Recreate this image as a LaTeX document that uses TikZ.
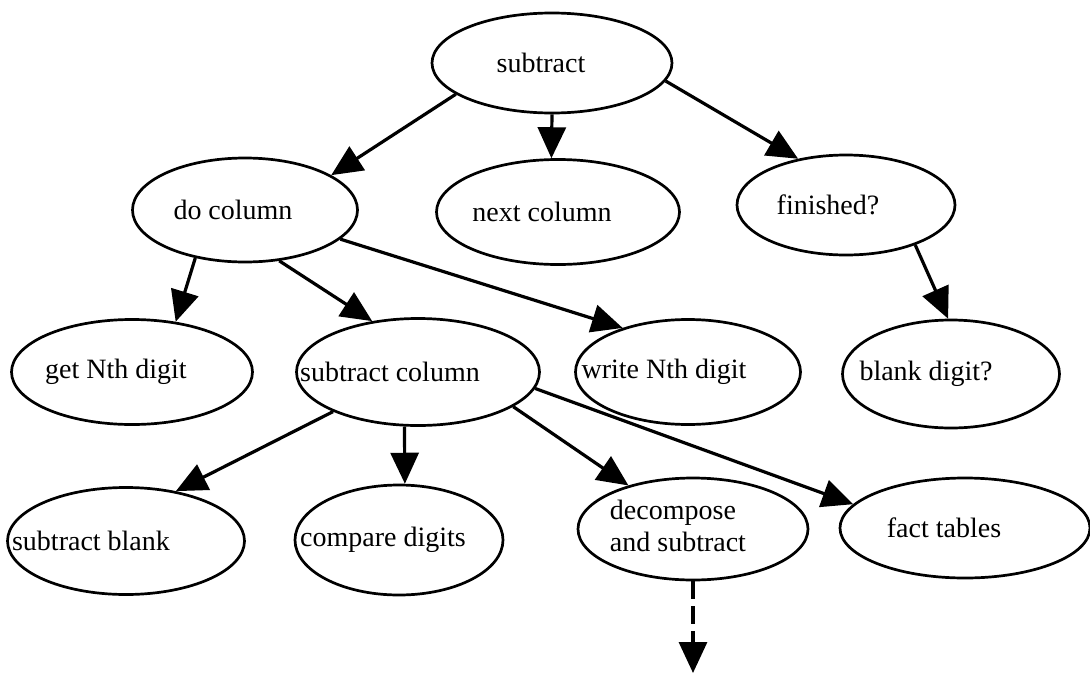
\documentclass[tikz,border=0pt]{standalone}
\usepackage{fontspec}
\setmainfont{Liberation Serif}
\usetikzlibrary{shapes.geometric,arrows.meta}
% text set a little left of the ellipse centre: #1 = twice the shift
\newcommand{\lefted}[2]{\makebox[0pt]{#2\kern#1}}
\begin{document}
\begin{tikzpicture}[x=1pt,y=-1pt,
  oval/.style={ellipse,draw,line width=2.7pt,inner sep=0pt,font=\fontsize{28}{32}\selectfont},
  size/.style 2 args={minimum width=#1pt,minimum height=#2pt},
  link/.style={line width=3.2pt,-{Triangle[length=31pt,width=28pt]}},
  dashedlink/.style={link,dash pattern=on 18pt off 7pt}]
\useasboundingbox (0,0) rectangle (1090,675);

% tasks
\node[oval,size={240}{100}] (sub)  at (552,63)  {\lefted{22pt}{subtract}};
\node[oval,size={225}{104}] (do)   at (245,210) {\lefted{24pt}{do column}};
\node[oval,size={243}{105}] (next) at (558,212) {\lefted{32pt}{next column}};
\node[oval,size={218}{100}] (fin)  at (846,205) {\lefted{36pt}{finished?}};
\node[oval,size={241}{105}] (get)  at (132,372) {\lefted{32pt}{get Nth digit}};
\node[oval,size={243}{107}] (sc)   at (418,372) {\lefted{56pt}{subtract column}};
\node[oval,size={225}{105}] (wr)   at (688,372) {\lefted{48pt}{write Nth digit}};
\node[oval,size={217}{108}] (bl)   at (951,374) {\lefted{50pt}{blank digit?}};
\node[oval,size={237}{107}] (sb)   at (126,541) {\lefted{70pt}{subtract blank}};
\node[oval,size={208}{110}] (cd)   at (399,540) {\lefted{32pt}{compare digits}};
\node[oval,size={230}{102}] (dec)  at (693,529) {\lefted{30pt}{\begin{tabular}{@{}l@{}}decompose\\and subtract\end{tabular}}};
\node[oval,size={250}{100}] (ft)   at (965,528) {\lefted{42pt}{fact tables}};
\coordinate (more) at (693,673);

% subgoal links
\draw[link] (sub.198) -- (do.22);
\draw[link] (sub.south) -- (next.97);
\draw[link] (sub.-9) -- (fin.136);
\draw[link] (do.224) -- (get.49);
\draw[link] (do.-56) -- (sc.132);
\draw[link] (do.-17) -- (wr.146);
\draw[link] (fin.-30) -- (bl.93);
\draw[link] (sc.205) -- (sb.45);
\draw[link] (sc.256) -- (cd.84);
\draw[link] (sc.-20) -- (dec.146);
\draw[link] (sc.-8) -- (ft.168);
\draw[dashedlink] (dec.south) -- (more);
\end{tikzpicture}
\end{document}
